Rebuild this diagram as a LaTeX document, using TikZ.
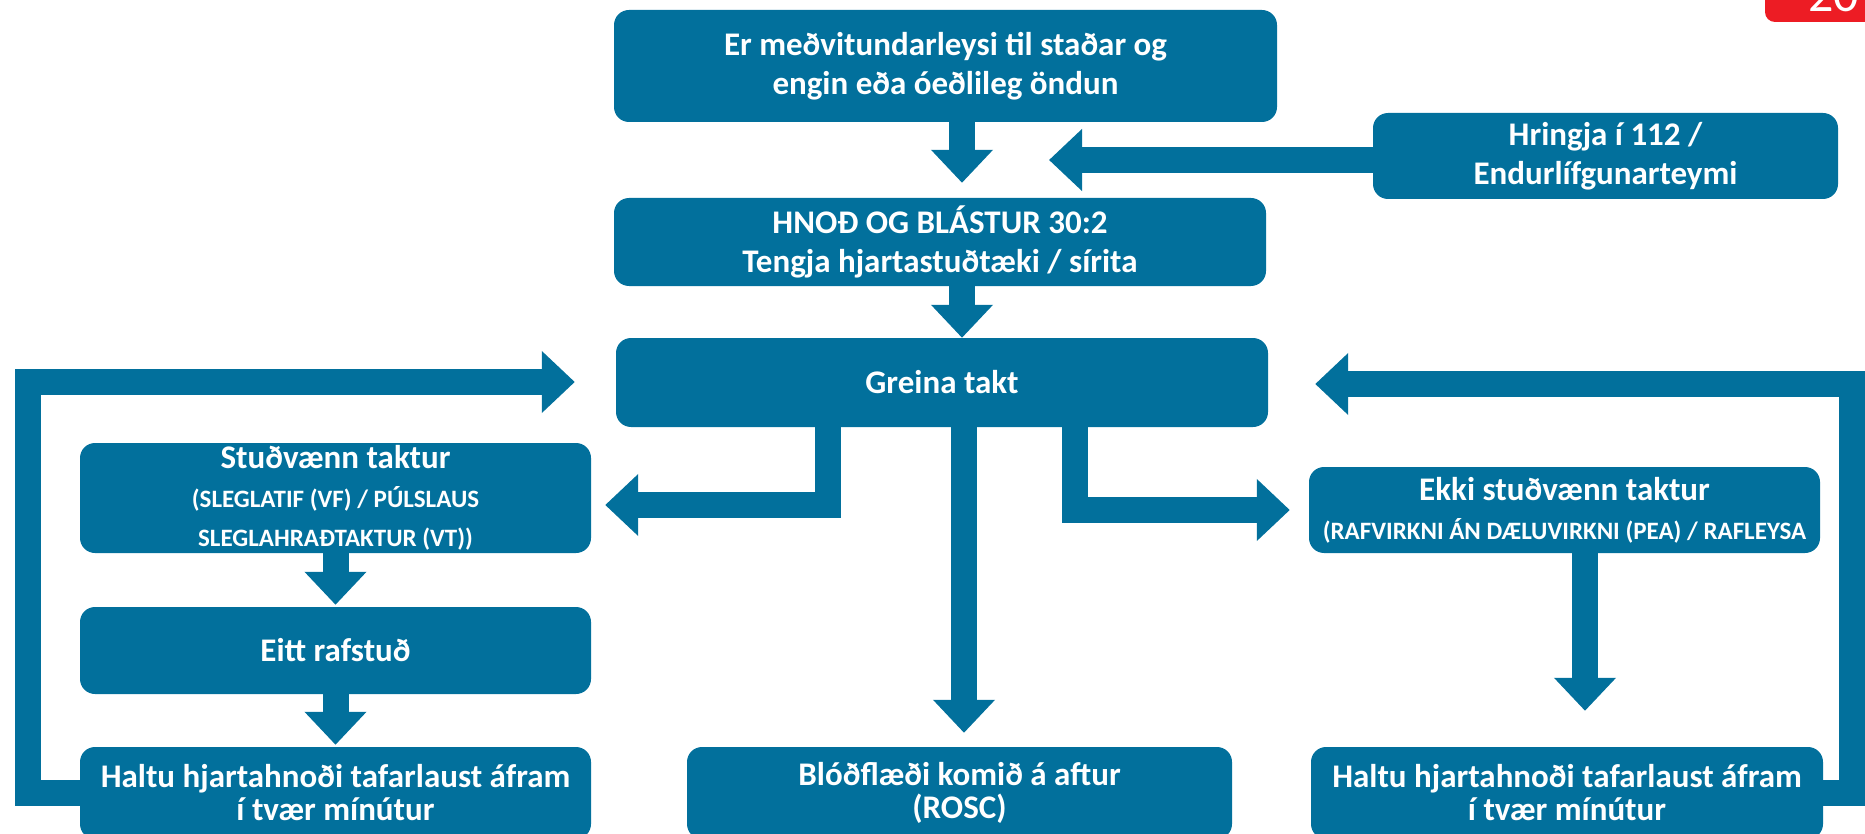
\documentclass[tikz,border=0pt]{standalone}
\usepackage{fontspec}
\setmainfont{Carlito}
\usetikzlibrary{arrows.meta,positioning}
\definecolor{cprblue}{RGB}{2,112,156}
\definecolor{tabred}{RGB}{237,28,36}
\newcommand{\boxfont}{\fontsize{33}{39}\selectfont\bfseries}
\newcommand{\lowfont}{\fontsize{33}{33}\selectfont\bfseries}
\newcommand{\capsfont}{\fontsize{25}{36}\selectfont\bfseries}

\begin{document}
\begin{tikzpicture}[x=1pt,y=-1pt,>={Triangle[width=60pt,length=33pt]},
                    box/.style={fill=cprblue,rounded corners=15pt,text=white,
                                align=center,inner sep=0pt,font=\boxfont},
                    lowbox/.style={box,font=\lowfont,minimum height=92pt},
                    flow/.style={->,draw=cprblue,line width=26pt,line join=miter}]
  \useasboundingbox (0,0) rectangle (1865,834);

  % page tab
  \fill[tabred,rounded corners=10pt] (1765,-20) rectangle (1885,22);
  \node[text=white,anchor=base west,font=\fontsize{50}{50}\selectfont] (tab) at (1805,12) {20};

  \node[box,minimum width=663pt,minimum height=112pt] (check)   at (945.5,66)  {Er meðvitundarleysi til staðar og\\engin eða óeðlileg öndun};
  \node[box,minimum width=465pt,minimum height=86pt]  (call)    at (1605.5,156) {Hringja í 112 /\\Endurlífgunarteymi};
  \node[box,minimum width=652pt,minimum height=88pt]  (cpr)     at (940,242)   {HNOÐ OG BLÁSTUR 30:2\\Tengja hjartastuðtæki / sírita};
  \node[box,minimum width=652pt,minimum height=89pt]  (rhythm)  at (942,382.5) {Greina takt};
  \node[box,minimum width=511pt,minimum height=110pt] (shock)   at (335.5,498) {Stuðvænn taktur\\{\capsfont (SLEGLATIF (VF) / PÚLSLAUS}\\{\capsfont SLEGLAHRAÐTAKTUR (VT))}};
  \node[box,minimum width=511pt,minimum height=86pt]  (noshock) at (1564.5,510) {Ekki stuðvænn taktur\\{\capsfont (RAFVIRKNI ÁN DÆLUVIRKNI (PEA) / RAFLEYSA}};
  \node[box,minimum width=511pt,minimum height=87pt]  (defib)   at (335.5,650.5) {Eitt rafstuð};
  \node[lowbox,minimum width=511pt] (resumeL) at (335.5,793) {Haltu hjartahnoði tafarlaust áfram\\í tvær mínútur};
  \node[lowbox,minimum width=545pt] (rosc)    at (959.5,793) {Blóðflæði komið á aftur\\(ROSC)};
  \node[lowbox,minimum width=512pt] (resumeR) at (1567,793)  {Haltu hjartahnoði tafarlaust áfram\\í tvær mínútur};

  \coordinate (mainx)  at (962,0);
  \coordinate (callto) at (1049,160);
  \coordinate (lbend)  at (828,505);
  \coordinate (midx)   at (964,0);
  \coordinate (rbend)  at (1075,510);
  \coordinate (downx)  at (1585,0);
  \coordinate (lloop)  at (28,382);
  \coordinate (rloop)  at (1852,384);

  \draw[flow,shorten >=15pt] (check.south -| mainx) -- (cpr.north -| mainx);
  \draw[flow] (call.west |- callto) -- (callto);
  \draw[flow] (cpr.south -| mainx) -- (rhythm.north -| mainx);
  \draw[flow,shorten >=14pt] (rhythm.south -| lbend) |- (shock.east |- lbend);
  \draw[flow,shorten >=14pt] (rhythm.south -| midx) -- (rosc.north -| midx);
  \draw[flow,shorten >=19pt] (rhythm.south -| rbend) |- (noshock.west |- rbend);
  \draw[flow,shorten >=36pt] (noshock.south -| downx) -- (resumeR.north -| downx);
  \draw[flow,shorten >=2pt] (shock.south) -- (defib.north);
  \draw[flow,shorten >=2pt] (defib.south) -- (resumeL.north);
  \draw[flow,shorten >=41pt] (resumeL.west) -| (lloop) -- (rhythm.west |- lloop);
  \draw[flow,shorten >=47pt] (resumeR.east) -| (rloop) -- (rhythm.east |- rloop);
\end{tikzpicture}
\end{document}
